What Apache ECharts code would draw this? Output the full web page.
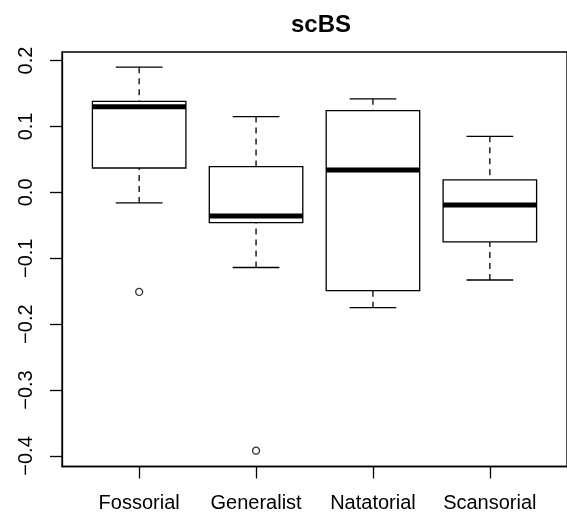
<!DOCTYPE html>
<html>
<head>
<meta charset="utf-8">
<script src="https://cdn.jsdelivr.net/npm/echarts@6/dist/echarts.min.js"></script>
<style>
html,body{margin:0;padding:0;background:#fff;}
#chart{width:567px;height:518px;}
</style>
</head>
<body>
<div id="chart"></div>
<script>
// ---- data ----
const categories = ['Fossorial', 'Generalist', 'Natatorial', 'Scansorial'];
const lowerWhisker = [-0.016, -0.114, -0.175, -0.133];
const q1 = [0.037, -0.046, -0.149, -0.075];
const median = [0.130, -0.036, 0.034, -0.019];
const q3 = [0.138, 0.039, 0.124, 0.019];
const upperWhisker = [0.190, 0.115, 0.142, 0.085];
const outlierCategory = ['Fossorial', 'Generalist'];
const outlierValue = [-0.151, -0.392];
const yTicks = [-0.4, -0.3, -0.2, -0.1, 0.0, 0.1, 0.2];
const xTicks = [1, 2, 3, 4];
const title = 'scBS';

const FONT = '"Liberation Sans", Arial, Helvetica, sans-serif';
const LW = 1.3;

const boxData = categories.map((c, i) => [i + 1, lowerWhisker[i], q1[i], median[i], q3[i], upperWhisker[i]]);
const outData = outlierCategory.map((c, i) => [categories.indexOf(c) + 1, outlierValue[i]]);

function renderBox(params, api) {
  const x = api.value(0);
  const lo = api.value(1), a = api.value(2), m = api.value(3), b = api.value(4), hi = api.value(5);
  const hw = 0.4, sw = 0.2;
  const p = (xx, yy) => api.coord([xx, yy]);
  const tl = p(x - hw, b), br = p(x + hw, a);
  const line = (p1, p2, style) => ({type: 'line', shape: {x1: p1[0], y1: p1[1], x2: p2[0], y2: p2[1]}, style: style});
  const solid = {stroke: '#000', lineWidth: LW, fill: null};
  const dashed = {stroke: '#000', lineWidth: LW, lineDash: [6, 5], fill: null};
  return {
    type: 'group',
    children: [
      line(p(x, hi), p(x, b), dashed),
      line(p(x, lo), p(x, a), dashed),
      line(p(x - sw, hi), p(x + sw, hi), solid),
      line(p(x - sw, lo), p(x + sw, lo), solid),
      {type: 'rect', shape: {x: tl[0], y: tl[1], width: br[0] - tl[0], height: br[1] - tl[1]},
       style: {fill: '#fff', stroke: '#000', lineWidth: LW}},
      line(p(x - hw, m), p(x + hw, m), {stroke: '#000', lineWidth: 5, lineCap: 'butt'})
    ]
  };
}

const chart = echarts.init(document.getElementById('chart'), null, {renderer: 'canvas'});
chart.setOption({
  animation: false,
  backgroundColor: '#fff',
  title: {
    text: title, left: 321, top: 13, textAlign: 'center', padding: 0,
    textStyle: {fontFamily: FONT, fontSize: 24, fontWeight: 'bold', color: '#000'}
  },
  grid: {
    left: 62, top: 52, width: 508, height: 414.5,
    show: true, borderColor: '#000', borderWidth: LW, backgroundColor: 'transparent'
  },
  xAxis: {
    type: 'value', min: 0.34, max: 4.66,
    axisLine: {show: true, onZero: false, lineStyle: {color: '#000', width: LW}},
    splitLine: {show: false},
    axisTick: {show: true, length: 12, customValues: xTicks, lineStyle: {color: '#000', width: LW}},
    axisLabel: {
      customValues: xTicks, margin: 27,
      formatter: v => categories[Math.round(v) - 1] || '',
      fontFamily: FONT, fontSize: 20, color: '#000'
    }
  },
  yAxis: {
    type: 'value', min: -0.416, max: 0.213,
    axisLine: {show: true, onZero: false, lineStyle: {color: '#000', width: LW}},
    splitLine: {show: false},
    axisTick: {show: true, length: 12, customValues: yTicks, lineStyle: {color: '#000', width: LW}},
    axisLabel: {
      customValues: yTicks, rotate: 90, margin: 26,
      formatter: v => (v < -1e-9 ? '\u2212' : '') + Math.abs(v).toFixed(1),
      fontFamily: FONT, fontSize: 20, color: '#000'
    }
  },
  series: [
    {type: 'custom', renderItem: renderBox, data: boxData, encode: {x: 0, y: [1, 2, 3, 4, 5]}, z: 2},
    {type: 'scatter', data: outData, symbol: 'circle', symbolSize: 7,
     itemStyle: {color: 'rgba(0,0,0,0)', borderColor: '#000', borderWidth: LW}, z: 3}
  ]
});
</script>
</body>
</html>
